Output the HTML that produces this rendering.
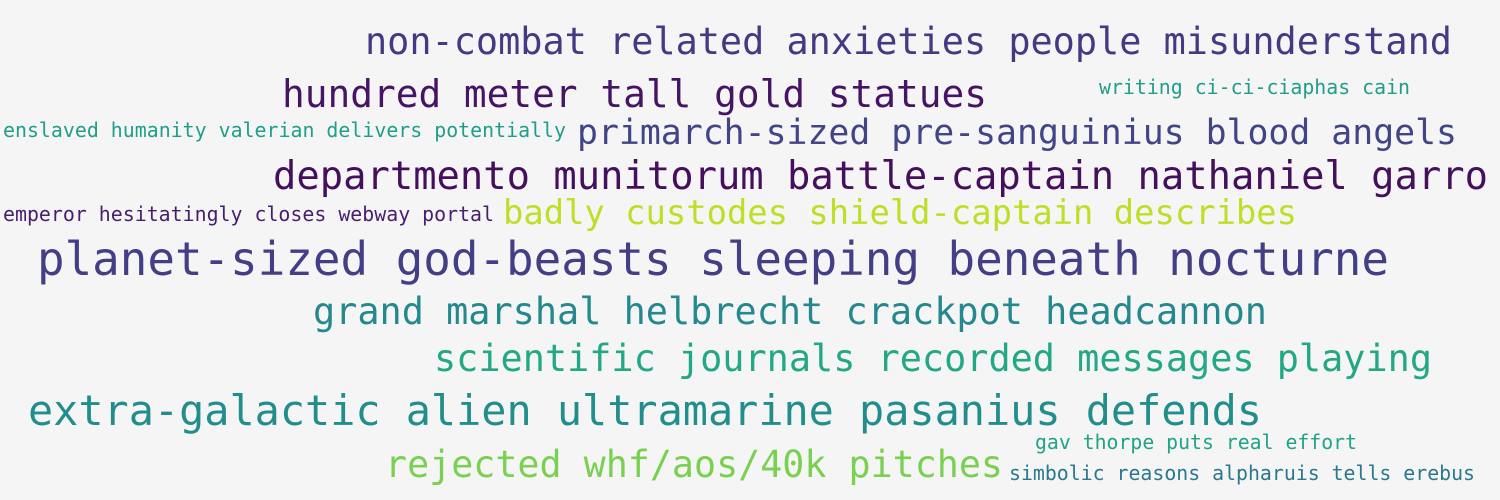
<!DOCTYPE html>
<html><head><meta charset="utf-8"><style>
html,body{margin:0;padding:0;background:#f5f5f5;}
svg{display:block;}
text{font-family:"DejaVu Sans Mono","Liberation Mono",monospace;}
</style></head><body>
<svg width="1500" height="500" viewBox="0 0 1500 500" xmlns="http://www.w3.org/2000/svg">
<rect width="1500" height="500" fill="#f5f5f5"/>
<text x="365" y="54" font-size="37" fill="#443983" textLength="1087" lengthAdjust="spacingAndGlyphs">non-combat related anxieties people misunderstand</text>
<text x="282" y="107" font-size="38" fill="#471365" textLength="705" lengthAdjust="spacingAndGlyphs">hundred meter tall gold statues</text>
<text x="1099" y="94" font-size="20" fill="#1f9e89" textLength="311" lengthAdjust="spacingAndGlyphs">writing ci-ci-ciaphas cain</text>
<text x="3" y="137" font-size="20" fill="#1f9e89" textLength="563" lengthAdjust="spacingAndGlyphs">enslaved humanity valerian delivers potentially</text>
<text x="577" y="144" font-size="35" fill="#414487" textLength="880" lengthAdjust="spacingAndGlyphs">primarch-sized pre-sanguinius blood angels</text>
<text x="273" y="189" font-size="39" fill="#450f5e" textLength="1215" lengthAdjust="spacingAndGlyphs">departmento munitorum battle-captain nathaniel garro</text>
<text x="3" y="221" font-size="20" fill="#481e6f" textLength="491" lengthAdjust="spacingAndGlyphs">emperor hesitatingly closes webway portal</text>
<text x="503" y="224" font-size="34" fill="#bddf26" textLength="794" lengthAdjust="spacingAndGlyphs">badly custodes shield-captain describes</text>
<text x="37" y="275" font-size="46" fill="#433e85" textLength="1352" lengthAdjust="spacingAndGlyphs">planet-sized god-beasts sleeping beneath nocturne</text>
<text x="313" y="324" font-size="37" fill="#23898e" textLength="954" lengthAdjust="spacingAndGlyphs">grand marshal helbrecht crackpot headcannon</text>
<text x="434" y="371" font-size="37" fill="#22a884" textLength="998" lengthAdjust="spacingAndGlyphs">scientific journals recorded messages playing</text>
<text x="28" y="425" font-size="42" fill="#218e8d" textLength="1234" lengthAdjust="spacingAndGlyphs">extra-galactic alien ultramarine pasanius defends</text>
<text x="1035" y="449" font-size="20" fill="#20a386" textLength="322" lengthAdjust="spacingAndGlyphs">gav thorpe puts real effort</text>
<text x="385" y="477" font-size="37" fill="#7ad151" textLength="618" lengthAdjust="spacingAndGlyphs">rejected whf/aos/40k pitches</text>
<text x="1009" y="480" font-size="20" fill="#2a788e" textLength="466" lengthAdjust="spacingAndGlyphs">simbolic reasons alpharuis tells erebus</text>
</svg>
</body></html>
